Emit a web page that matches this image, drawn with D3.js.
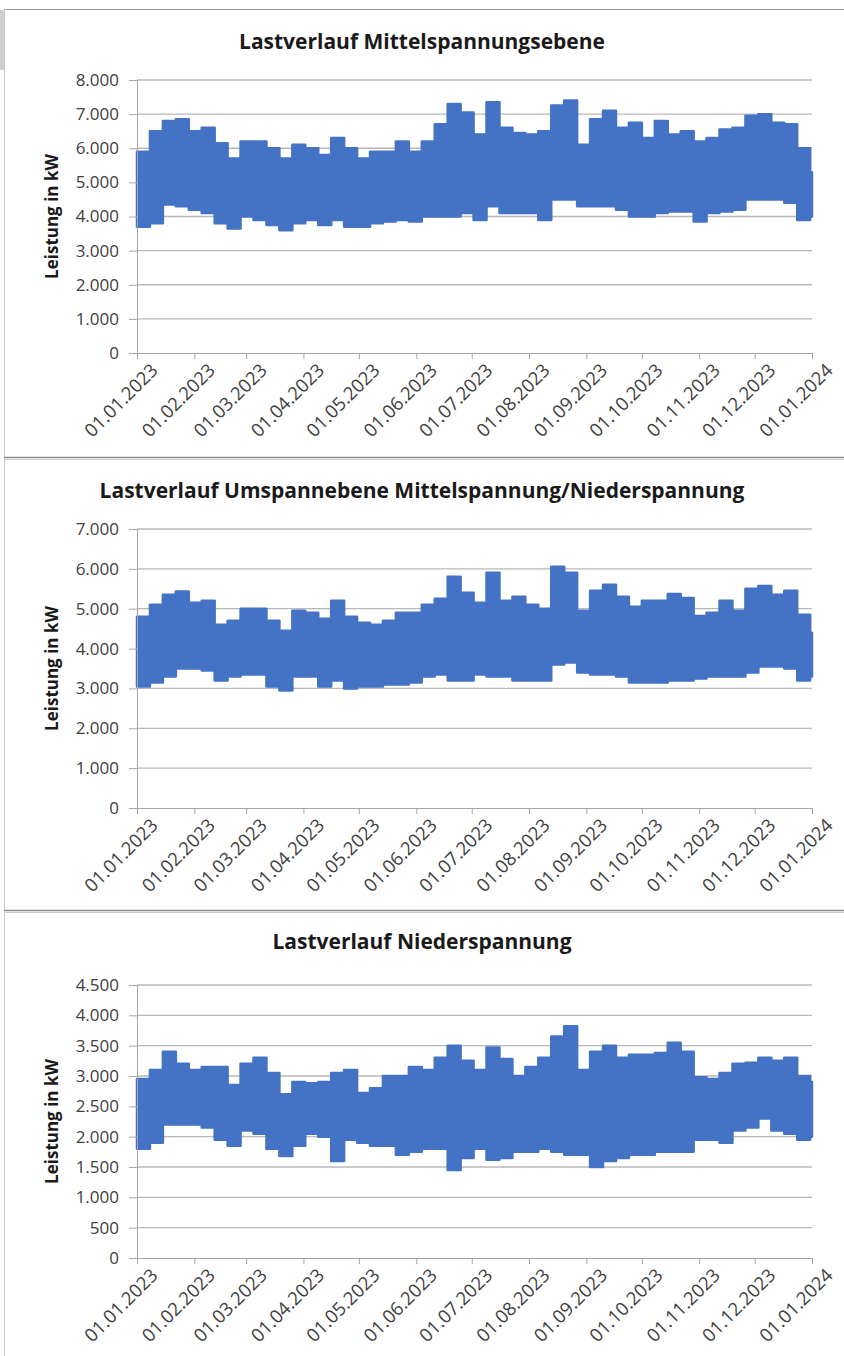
<!DOCTYPE html>
<html lang="de">
<head>
<meta charset="UTF-8">
<title>Lastverlauf</title>
<script src="https://d3js.org/d3.v7.min.js"></script>
<style>
  body { margin: 0; background: #fff; }
  svg { display: block; }
  text { font-family: "Open Sans", sans-serif; fill: #404040; }
  .title { font-weight: bold; font-size: 21px; fill: #1a1a1a; }
  .ytitle { font-weight: bold; font-size: 17px; fill: #1a1a1a; }
  .tick text { font-size: 17px; fill: #404040; }
  .xlab .tick text { font-size: 18.5px; }
</style>
</head>
<body>
<svg id="chart" width="844" height="1356"></svg>
<script>
// weekly envelopes (max / min in kW), 53 weeks from 01.01.2023, last value = 01.01.2024
const mspHigh = [5900,6500,6800,6850,6500,6600,6150,5700,6200,6200,6000,5700,6100,6000,5800,6300,6000,5700,5900,5900,
  6200,5900,6200,6700,7300,7050,6400,7350,6600,6450,6400,6500,7250,7400,6100,6850,7100,6600,6750,6300,
  6800,6400,6500,6200,6300,6550,6600,6950,7000,6750,6700,6000,5300,4650];
const mspLow = [3700,3800,4350,4300,4200,4100,3800,3650,4000,3900,3750,3600,3800,3900,3750,3900,3700,3700,3800,3850,
  3900,3850,4000,4000,4000,4100,3900,4300,4100,4100,4100,3900,4500,4500,4300,4300,4300,4200,4000,4000,
  4100,4150,4150,3850,4100,4150,4200,4500,4500,4500,4400,3900,4000,4650];

const umsHigh = [4800,5100,5350,5430,5150,5200,4600,4700,5000,5000,4700,4450,4950,4900,4750,5200,4800,4650,4600,4700,
  4900,4900,5100,5250,5800,5400,5150,5900,5200,5300,5100,5000,6050,5900,4950,5450,5600,5300,5050,5200,
  5200,5370,5270,4820,4900,5200,4950,5500,5570,5350,5450,4850,4400,3850];
const umsLow = [3050,3150,3300,3500,3500,3450,3200,3300,3350,3350,3050,2950,3300,3300,3050,3200,3000,3050,3050,3100,
  3100,3150,3300,3350,3200,3200,3350,3300,3300,3200,3200,3200,3600,3650,3400,3350,3350,3300,3150,3150,
  3150,3200,3200,3250,3300,3300,3300,3400,3550,3550,3500,3200,3300,3850];

const nsHigh = [2950,3100,3400,3200,3100,3150,3150,2850,3200,3300,3050,2700,2900,2880,2900,3050,3100,2720,2800,3000,
  3000,3150,3100,3300,3500,3250,3100,3470,3280,3000,3150,3300,3650,3820,3100,3400,3500,3300,3350,3350,
  3380,3550,3400,2980,2950,3050,3200,3220,3300,3250,3300,3000,2900,2600];
const nsLow = [1800,1900,2200,2200,2200,2150,1950,1850,2100,2050,1800,1680,1850,2050,2000,1600,1950,1900,1850,1850,
  1700,1750,1800,1800,1450,1650,1800,1620,1650,1750,1750,1800,1750,1700,1700,1500,1600,1650,1700,1700,
  1750,1750,1750,1950,1950,1900,2100,2150,2300,2100,2050,1950,2000,2600];

const titles = ["Lastverlauf Mittelspannungsebene",
  "Lastverlauf Umspannebene Mittelspannung/Niederspannung",
  "Lastverlauf Niederspannung"];
const yTicks1 = [0,1000,2000,3000,4000,5000,6000,7000,8000];
const yTicks2 = [0,1000,2000,3000,4000,5000,6000,7000];
const yTicks3 = [0,500,1000,1500,2000,2500,3000,3500,4000,4500];
const yTitle = "Leistung in kW";

const start = new Date(2023, 0, 1), end = new Date(2024, 0, 1);
const dates = d3.timeDay.range(start, end, 7).concat([end]);
const monthTicks = d3.timeMonth.range(start, new Date(2024, 0, 2));

const de = d3.formatLocale({decimal: ",", thousands: ".", grouping: [3], currency: ["", " €"]});
const fmtY = de.format(",d");
const fmtX = d3.timeFormat("%d.%m.%Y");

const blue = "#4472c4";
const svg = d3.select("#chart");

// panel frames
svg.append("rect").attr("x", 0).attr("y", 10).attr("width", 4).attr("height", 60).attr("fill", "#cfcfcf");
svg.append("line").attr("x1", 4).attr("x2", 844).attr("y1", 9.5).attr("y2", 9.5).attr("stroke", "#9a9a9a");
svg.append("line").attr("x1", 4.5).attr("x2", 4.5).attr("y1", 9).attr("y2", 1356).attr("stroke", "#c8c8c8");
[457, 910].forEach(yy => {
  svg.append("line").attr("x1", 4).attr("x2", 844).attr("y1", yy + 0.5).attr("y2", yy + 0.5).attr("stroke", "#8a8a8a").attr("stroke-width", 1.5);
  svg.append("line").attr("x1", 4).attr("x2", 844).attr("y1", yy + 2.5).attr("y2", yy + 2.5).attr("stroke", "#d0d0d0");
});

const panels = [
  {title: titles[0], titleY: 49, top: 80, bottom: 353, ticks: yTicks1, hi: mspHigh, lo: mspLow},
  {title: titles[1], titleY: 498, top: 529, bottom: 808, ticks: yTicks2, hi: umsHigh, lo: umsLow},
  {title: titles[2], titleY: 949, top: 985, bottom: 1258, ticks: yTicks3, hi: nsHigh, lo: nsLow}
];

const left = 137, right = 812;

panels.forEach(p => {
  const g = svg.append("g");
  const x = d3.scaleTime().domain([start, end]).range([left, right]);
  const y = d3.scaleLinear().domain([0, d3.max(p.ticks)]).range([p.bottom, p.top]);

  g.append("text").attr("class", "title")
    .attr("x", 422).attr("y", p.titleY).attr("text-anchor", "middle").text(p.title);

  g.append("text").attr("class", "ytitle")
    .attr("transform", `translate(58,${(p.top + p.bottom) / 2}) rotate(-90)`)
    .attr("text-anchor", "middle").text(yTitle);

  // gridlines
  g.append("g").selectAll("line").data(p.ticks.filter(t => t > 0)).join("line")
    .attr("x1", left).attr("x2", right)
    .attr("y1", d => y(d)).attr("y2", d => y(d))
    .attr("stroke", "#b8b8b8").attr("stroke-width", 1.3);

  const data = dates.map((d, i) => ({date: d, hi: p.hi[i], lo: p.lo[i]}));
  const area = d3.area().x(d => x(d.date)).y0(d => y(d.lo)).y1(d => y(d.hi)).curve(d3.curveStepAfter);
  g.append("path").datum(data).attr("d", area)
    .attr("fill", blue).attr("stroke", blue).attr("stroke-width", 2.5).attr("stroke-linejoin", "round");

  const yAxis = g.append("g").attr("transform", `translate(${left},0)`)
    .call(d3.axisLeft(y).tickValues(p.ticks).tickFormat(fmtY).tickSize(8).tickPadding(10));
  yAxis.selectAll("line, path").attr("stroke", "#a6a6a6");

  const xAxis = g.append("g").attr("class", "xlab").attr("transform", `translate(0,${p.bottom})`)
    .call(d3.axisBottom(x).tickValues(monthTicks).tickFormat(fmtX).tickSize(6).tickSizeOuter(0));
  xAxis.selectAll("line, path").attr("stroke", "#a6a6a6");
  xAxis.selectAll("text")
    .attr("text-anchor", "end")
    .attr("transform", "translate(6,3) rotate(-45)")
    .attr("dy", "0.7em");
});
</script>
</body>
</html>
